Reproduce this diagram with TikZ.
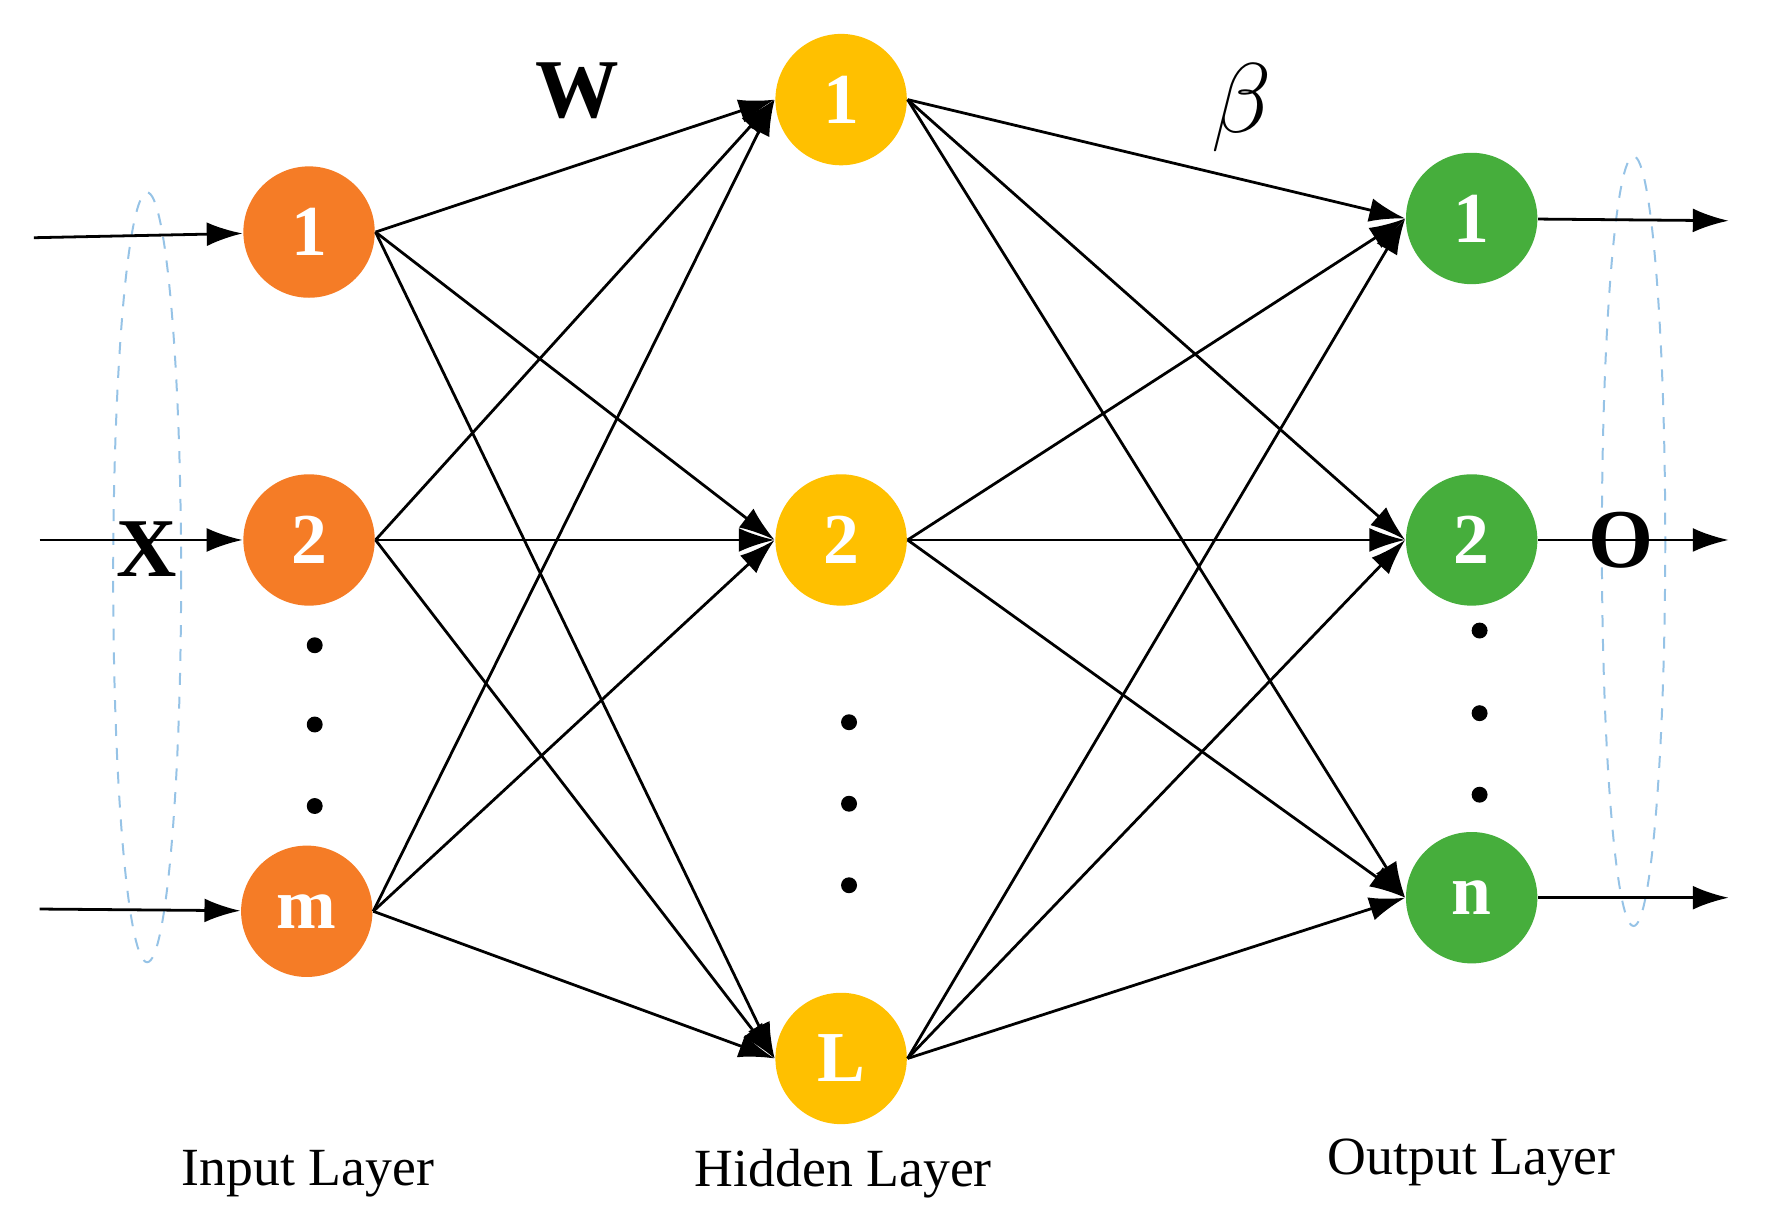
\documentclass[tikz,border=0pt]{standalone}
\usepackage{fontspec}
\setmainfont{Liberation Serif}
\usetikzlibrary{arrows.meta}
\definecolor{inC}{RGB}{245,124,38}
\definecolor{hidC}{RGB}{255,192,0}
\definecolor{outC}{RGB}{70,174,60}
\definecolor{ellC}{RGB}{150,195,230}
\begin{document}
\begin{tikzpicture}[x=0.01cm,y=-0.01cm,
  neuron/.style={circle,minimum size=1.16cm,inner sep=0pt,text=white,font=\fontsize{18}{18}\selectfont\bfseries},
  conn/.style={-{Latex[length=9pt,width=6pt]},line width=0.7pt},
  dot/.style={circle,fill=black,inner sep=0pt,minimum size=4pt},
  lab/.style={font=\fontsize{13.5}{13.5}\selectfont}]
\useasboundingbox (0,0) rectangle (1560,1080);
\draw[ellC,dashed,line width=0.5pt] (130,510) ellipse [x radius=30, y radius=340];
\draw[ellC,dashed,line width=0.5pt] (1443,478) ellipse [x radius=28, y radius=340];
\node[neuron,fill=inC] (i1) at (273,205) {1};
\node[neuron,fill=inC] (i2) at (273,477) {2};
\node[neuron,fill=inC] (im) at (271,805) {m};
\node[neuron,fill=hidC] (h1) at (743,88) {1};
\node[neuron,fill=hidC] (h2) at (743,477) {2};
\node[neuron,fill=hidC] (hL) at (743,935) {L};
\node[neuron,fill=outC] (o1) at (1300,193) {1};
\node[neuron,fill=outC] (o2) at (1300,477) {2};
\node[neuron,fill=outC] (on) at (1300,793) {n};
\coordinate (a1) at (30,210); \coordinate (a2) at (35,477); \coordinate (a3) at (35,803);
\coordinate (b1) at (1527,195); \coordinate (b2) at (1527,477); \coordinate (b3) at (1527,793);
\draw[conn] (a1) -- (i1); \draw[conn] (a2) -- (i2); \draw[conn] (a3) -- (im);
\draw[conn] (o1) -- (b1); \draw[conn] (o2) -- (b2); \draw[conn] (on) -- (b3);
\foreach \s in {i1,i2,im}{\foreach \t in {h1,h2,hL}{\draw[conn] (\s.east) -- (\t.west);}}
\foreach \s in {h1,h2,hL}{\foreach \t in {o1,o2,on}{\draw[conn] (\s.east) -- (\t.west);}}
\node[dot] (d1) at (278,570) {}; \node[dot] (d2) at (278,640) {}; \node[dot] (d3) at (278,712) {};
\node[dot] (d4) at (750,638) {}; \node[dot] (d5) at (750,710) {}; \node[dot] (d6) at (750,782) {};
\node[dot] (d7) at (1307,557) {}; \node[dot] (d8) at (1307,630) {}; \node[dot] (d9) at (1307,702) {};
\node[font=\fontsize{21}{21}\selectfont\bfseries] (W) at (510,80) {W};
\node[font=\fontsize{24}{24}\selectfont] (beta) at (1097,95) {$\beta$};
\node[inner sep=1pt,font=\fontsize{21}{21}\selectfont\bfseries] (X) at (130,485) {X};
\node[inner sep=1pt,font=\fontsize{21}{21}\selectfont\bfseries] (O) at (1432,477) {O};
\node[lab] (l1) at (272,1037) {Input Layer};
\node[lab] (l2) at (745,1037) {Hidden Layer};
\node[lab] (l3) at (1300,1027) {Output Layer};
\end{tikzpicture}
\end{document}
